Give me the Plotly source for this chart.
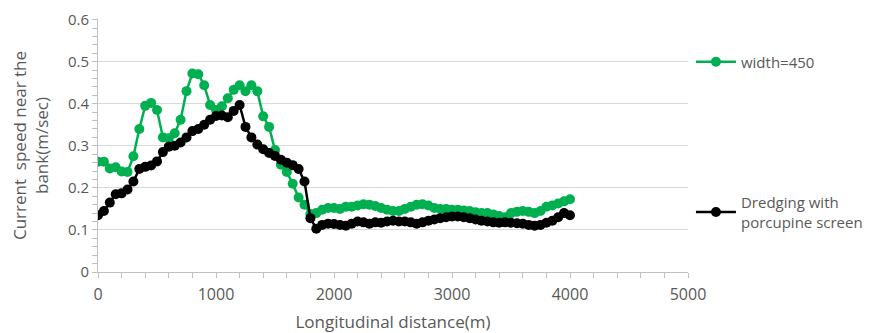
import plotly.graph_objects as go

distance = [i * 50 for i in range(81)]

width_450 = [
    0.262, 0.262, 0.246, 0.249, 0.239, 0.238, 0.275, 0.340, 0.395, 0.402,
    0.385, 0.320, 0.318, 0.330, 0.362, 0.430, 0.472, 0.470, 0.444, 0.397,
    0.385, 0.394, 0.413, 0.433, 0.444, 0.430, 0.444, 0.430, 0.370, 0.345,
    0.290, 0.255, 0.238, 0.210, 0.177, 0.160, 0.138, 0.140, 0.148, 0.152,
    0.152, 0.150, 0.155, 0.155, 0.158, 0.161, 0.160, 0.157, 0.152, 0.148,
    0.145, 0.145, 0.150, 0.155, 0.160, 0.161, 0.158, 0.152, 0.150, 0.150,
    0.148, 0.148, 0.146, 0.145, 0.142, 0.140, 0.140, 0.137, 0.133, 0.130,
    0.140, 0.143, 0.145, 0.143, 0.140, 0.145, 0.155, 0.158, 0.163, 0.168,
    0.173,
]

dredging = [
    0.135, 0.145, 0.165, 0.185, 0.187, 0.196, 0.215, 0.245, 0.250, 0.253,
    0.263, 0.285, 0.298, 0.300, 0.308, 0.320, 0.335, 0.340, 0.350, 0.362,
    0.371, 0.372, 0.368, 0.383, 0.397, 0.345, 0.320, 0.303, 0.292, 0.283,
    0.276, 0.267, 0.260, 0.254, 0.245, 0.215, 0.128, 0.103, 0.112, 0.115,
    0.114, 0.112, 0.110, 0.115, 0.120, 0.118, 0.115, 0.118, 0.117, 0.120,
    0.122, 0.120, 0.120, 0.118, 0.115, 0.118, 0.122, 0.125, 0.128, 0.130,
    0.132, 0.132, 0.130, 0.128, 0.125, 0.122, 0.120, 0.118, 0.117, 0.118,
    0.117, 0.116, 0.115, 0.112, 0.110, 0.112, 0.117, 0.122, 0.130, 0.140,
    0.135,
]

x_ticks = [0, 1000, 2000, 3000, 4000, 5000]
y_ticks = [0, 0.1, 0.2, 0.3, 0.4, 0.5, 0.6]

GREEN = "#00b050"
GRAY_TXT = "#595959"
FONT = "'Open Sans', sans-serif"

fig = go.Figure()
fig.add_trace(go.Scatter(
    x=distance, y=width_450, mode="lines+markers", name="width=450",
    line=dict(color=GREEN, width=2.5),
    marker=dict(color=GREEN, size=10),
    legend="legend", showlegend=True,
))
fig.add_trace(go.Scatter(
    x=distance, y=dredging, mode="lines+markers",
    name="Dredging with<br>porcupine screen",
    line=dict(color="black", width=2.5),
    marker=dict(color="black", size=10),
    legend="legend2", showlegend=True,
))

fig.update_layout(
    width=876, height=333,
    margin=dict(l=90, r=196, t=11, b=69, autoexpand=False),
    paper_bgcolor="white", plot_bgcolor="white",
    showlegend=True,
    font=dict(family=FONT, size=15, color=GRAY_TXT),
    legend=dict(x=1.005, y=0.83, xanchor="left", yanchor="middle",
                font=dict(size=15, color=GRAY_TXT), bgcolor="rgba(0,0,0,0)",
                itemwidth=40, visible=True),
    legend2=dict(x=1.005, y=0.237, xanchor="left", yanchor="middle",
                 font=dict(size=15, color=GRAY_TXT), bgcolor="rgba(0,0,0,0)",
                 itemwidth=40, visible=True),
)

fig.update_xaxes(
    range=[0, 5000], tickvals=x_ticks, ticktext=[str(v) for v in x_ticks],
    showgrid=False, zeroline=False, automargin=False,
    showline=True, linecolor="#bfbfbf", linewidth=1,
    ticks="outside", ticklen=5, tickcolor="#bfbfbf", ticklabelstandoff=3,
    minor=dict(dtick=200, ticks="outside", ticklen=5, tickcolor="#bfbfbf", showgrid=False),
    title=dict(text="Longitudinal distance(m)", font=dict(size=17, color=GRAY_TXT), standoff=11),
    tickfont=dict(size=16, color=GRAY_TXT),
)
fig.update_yaxes(
    range=[0, 0.6015], tickvals=y_ticks, ticktext=[f"{v:g}" for v in y_ticks],
    showgrid=True, gridcolor="#d9d9d9", gridwidth=1, zeroline=False, automargin=False,
    showline=True, linecolor="#bfbfbf", linewidth=1,
    ticks="outside", ticklen=5, tickcolor="#bfbfbf", ticklabeloverflow="allow",
    minor=dict(dtick=0.02, ticks="outside", ticklen=5, tickcolor="#bfbfbf", showgrid=False),
    title=dict(text="Current  speed near the<br>bank(m/sec)", font=dict(size=17, color=GRAY_TXT), standoff=14),
    tickfont=dict(size=15, color=GRAY_TXT),
)

fig.write_html("out.html")
